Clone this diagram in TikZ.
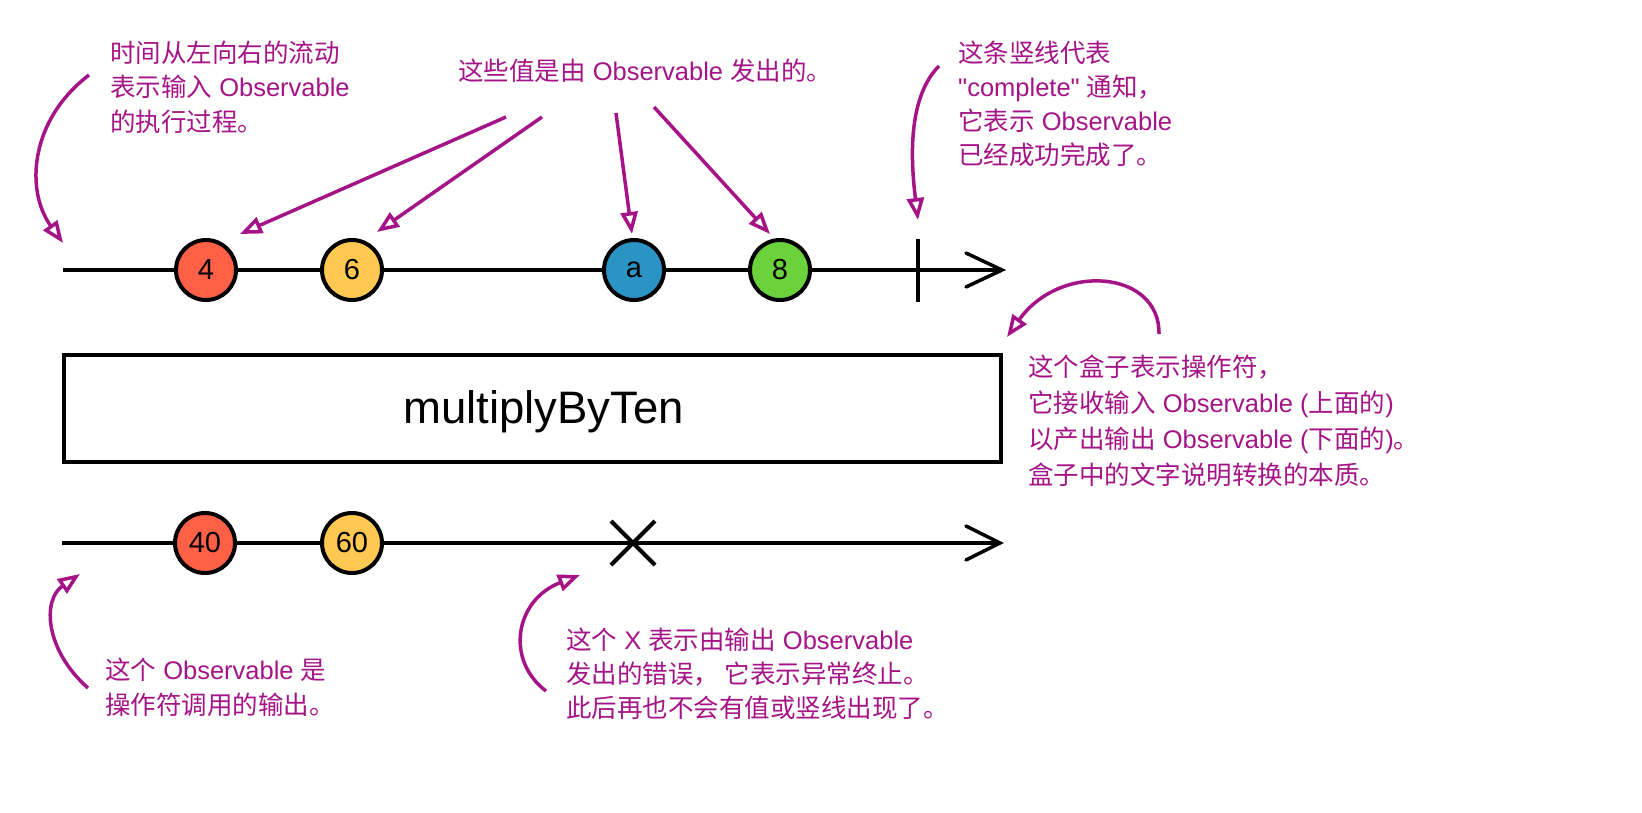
\documentclass[tikz,border=0pt]{standalone}
\usepackage{fontspec}
\setmainfont{Liberation Sans}[Ligatures=TeXOff]
\newfontfamily\zh{Noto Sans CJK SC}
\usetikzlibrary{arrows.meta,calc}
\definecolor{anno}{RGB}{165,20,135}
\definecolor{cred}{RGB}{255,96,70}
\definecolor{cyel}{RGB}{255,200,80}
\definecolor{cblue}{RGB}{42,149,197}
\definecolor{cgreen}{RGB}{108,210,60}
\begin{document}
\begin{tikzpicture}[x=1pt,y=-1pt,
  axis/.style={line width=3.5pt, black},
  marble/.style={circle, draw=black, line width=4pt, minimum size=60pt, inner sep=0pt, font=\fontsize{29}{29}\selectfont},
  note/.style={text=anno, anchor=base west, align=left, inner sep=0pt, font=\fontsize{25.5}{34.5}\selectfont},
  callout/.style={draw=anno, line width=3.5pt, -{Triangle[open,length=22pt,width=17pt]}},
  opbox/.style={draw=black, line width=4pt, minimum width=937pt, minimum height=107pt, inner sep=0pt}
]
\useasboundingbox (0,0) rectangle (1642,812);

% top timeline
\coordinate (t0) at (63,270);
\coordinate (t1) at (1002,270);
\draw[axis] (t0) -- (t1);
\draw[axis, line cap=round] ($(t1)+(-36,-17)$) -- (t1) -- ($(t1)+(-36,17)$);
\node[marble, fill=cred]   (m4) at (206,270) {4};
\node[marble, fill=cyel]   (m6) at (352,270) {6};
\node[marble, fill=cblue]  (ma) at (634,270) {a};
\node[marble, fill=cgreen] (m8) at (780,270) {8};
\coordinate (ct) at (918,239);
\coordinate (cb) at (918,302);
\draw[line width=4pt] (ct) -- (cb);

% operator box
\node[opbox] (op) at (532.5,408.5) {};
\node[anchor=base west, inner sep=0pt, font=\fontsize{45.5}{45.5}\selectfont] (opl) at (403,423) {multiplyByTen};

% bottom timeline
\coordinate (b0) at (62,543);
\coordinate (b1) at (1000,543);
\draw[axis] (b0) -- (b1);
\draw[axis, line cap=round] ($(b1)+(-34,-17)$) -- (b1) -- ($(b1)+(-34,17)$);
\node[marble, fill=cred] (m40) at (205,543) {40};
\node[marble, fill=cyel] (m60) at (352,543) {60};
\coordinate (xc) at (633,543);
\draw[line width=4pt] ($(xc)+(-22,-22)$) -- ($(xc)+(22,22)$);
\draw[line width=4pt] ($(xc)+(-22,22)$) -- ($(xc)+(22,-22)$);

% notes (anchor = baseline of the last line)
\node[note] (n1) at (110,131) {{\zh 时间从左向右的流动}\\{\zh 表示输入} Observable\\{\zh 的执行过程。}};
\node[note] (n2) at (458,80.5) {{\zh 这些值是由} Observable {\zh 发出的。}};
\node[note, font=\fontsize{25.5}{34}\selectfont] (n3) at (958,164.5) {{\zh 这条竖线代表}\\"complete" {\zh 通知，}\\{\zh 它表示} Observable\\{\zh 已经成功完成了。}};
\node[note, font=\fontsize{25.5}{36}\selectfont] (n4) at (1028,484.5) {{\zh 这个盒子表示操作符，}\\{\zh 它接收输入} Observable ({\zh 上面的})\\{\zh 以产出输出} Observable ({\zh 下面的}){\zh 。}\\{\zh 盒子中的文字说明转换的本质。}};
\node[note, font=\fontsize{25.5}{35}\selectfont] (n5) at (105,714.5) {{\zh 这个} Observable {\zh 是}\\{\zh 操作符调用的输出。}};
\node[note, font=\fontsize{25.5}{34}\selectfont] (n6) at (566,717.5) {{\zh 这个} X {\zh 表示由输出} Observable\\{\zh 发出的错误，\ 它表示异常终止。}\\{\zh 此后再也不会有值或竖线出现了。}};

% callout arrows
\coordinate (s1) at (89,75);   \coordinate (e1) at (63,243);
\coordinate (s2) at (506,117); \coordinate (e2) at (240,234);
\coordinate (s3) at (542,117); \coordinate (e3) at (377,232);
\coordinate (s4) at (616,113); \coordinate (e4) at (632,234);
\coordinate (s5) at (654,107); \coordinate (e5) at (770,234);
\coordinate (s6) at (939,66);  \coordinate (e6) at (918,220);
\coordinate (s7) at (1159,334); \coordinate (e7) at (1007,337);
\coordinate (s8) at (88,688);  \coordinate (e8) at (80,574);
\coordinate (s9) at (546,691); \coordinate (e9) at (580,575);

\draw[callout] (s1) .. controls (30,120) and (25,190) .. (e1);
\draw[callout] (s2) -- (e2);
\draw[callout] (s3) -- (e3);
\draw[callout] (s4) -- (e4);
\draw[callout] (s5) -- (e5);
\draw[callout] (s6) .. controls (905,100) and (912,170) .. (e6);
\draw[callout] (s7) .. controls (1160,270) and (1060,262) .. (e7);
\draw[callout] (s8) .. controls (45,650) and (42,600) .. (e8);
\draw[callout] (s9) .. controls (505,660) and (515,600) .. (e9);
\end{tikzpicture}
\end{document}
